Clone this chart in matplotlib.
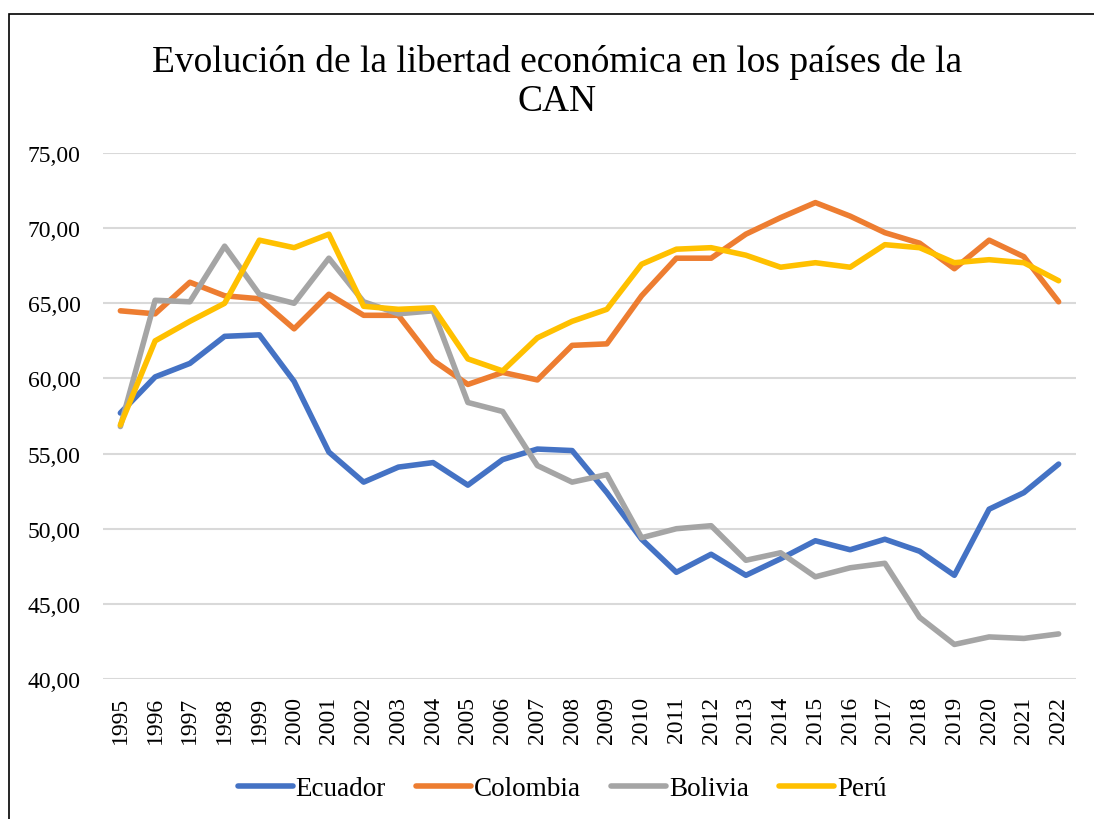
import matplotlib
matplotlib.use("Agg")
import matplotlib.pyplot as plt
from matplotlib.patches import Rectangle
from matplotlib.ticker import FuncFormatter

plt.rcParams['font.family'] = ['Liberation Serif', 'DejaVu Serif']

# datos
years = list(range(1995, 2023))
ecuador = [57.7, 60.1, 61.0, 62.8, 62.9, 59.8, 55.1, 53.1, 54.1, 54.4,
           52.9, 54.6, 55.3, 55.2, 52.4, 49.3, 47.1, 48.3, 46.9, 48.0,
           49.2, 48.6, 49.3, 48.5, 46.9, 51.3, 52.4, 54.3]
colombia = [64.5, 64.3, 66.4, 65.5, 65.3, 63.3, 65.6, 64.2, 64.2, 61.2,
            59.6, 60.4, 59.9, 62.2, 62.3, 65.5, 68.0, 68.0, 69.6, 70.7,
            71.7, 70.8, 69.7, 69.0, 67.3, 69.2, 68.1, 65.1]
bolivia = [56.8, 65.2, 65.1, 68.8, 65.6, 65.0, 68.0, 65.1, 64.3, 64.5,
           58.4, 57.8, 54.2, 53.1, 53.6, 49.4, 50.0, 50.2, 47.9, 48.4,
           46.8, 47.4, 47.7, 44.1, 42.3, 42.8, 42.7, 43.0]
peru = [56.9, 62.5, 63.8, 65.0, 69.2, 68.7, 69.6, 64.8, 64.6, 64.7,
        61.3, 60.5, 62.7, 63.8, 64.6, 67.6, 68.6, 68.7, 68.2, 67.4,
        67.7, 67.4, 68.9, 68.7, 67.7, 67.9, 67.7, 66.5]

series = [("Ecuador", ecuador, "#4472C4"),
          ("Colombia", colombia, "#ED7D31"),
          ("Bolivia", bolivia, "#A5A5A5"),
          ("Perú", peru, "#FFC000")]

fig = plt.figure(figsize=(10.94, 8.2), dpi=100)
ax = fig.add_axes([103 / 1094, 1 - 680 / 820, (1076 - 103) / 1094, (680 - 154) / 820])

for name, vals, col in series:
    ax.plot(years, vals, color=col, linewidth=4.0, label=name,
            solid_capstyle='round', solid_joinstyle='round')

ax.set_xlim(years[0] - 0.5, years[-1] + 0.5)
ax.set_ylim(40, 75)
ax.set_yticks(range(40, 76, 5))
ax.yaxis.set_major_formatter(FuncFormatter(lambda v, p: f"{v:.2f}".replace(".", ",")))
ax.set_xticks(years)
ax.set_xticklabels([str(y) for y in years], rotation=90)
ax.tick_params(axis='y', length=0, labelsize=17, pad=16)
ax.tick_params(axis='x', length=0, labelsize=17, pad=12)
ax.grid(axis='y', color='#D9D9D9', linewidth=1.5)
ax.set_axisbelow(True)
for s in ax.spines.values():
    s.set_visible(False)

fig.text(557 / 1094, 1 - 82 / 820, "Evolución de la libertad económica en los países de la\nCAN",
         ha='center', va='center', fontsize=27, linespacing=1.2)

fig.legend(loc='center', bbox_to_anchor=(562 / 1094, 1 - 790 / 820), ncol=4,
           frameon=False, fontsize=19.5, handlelength=2.05, handletextpad=0.1,
           columnspacing=1.1)

# borde del área del gráfico
fig.patches.append(Rectangle((9 / 1094, -0.1), 1.2, 1 - 15 / 820 + 0.1,
                             transform=fig.transFigure, fill=False,
                             edgecolor='black', linewidth=1.2))

plt.savefig('out.png', dpi=100)
